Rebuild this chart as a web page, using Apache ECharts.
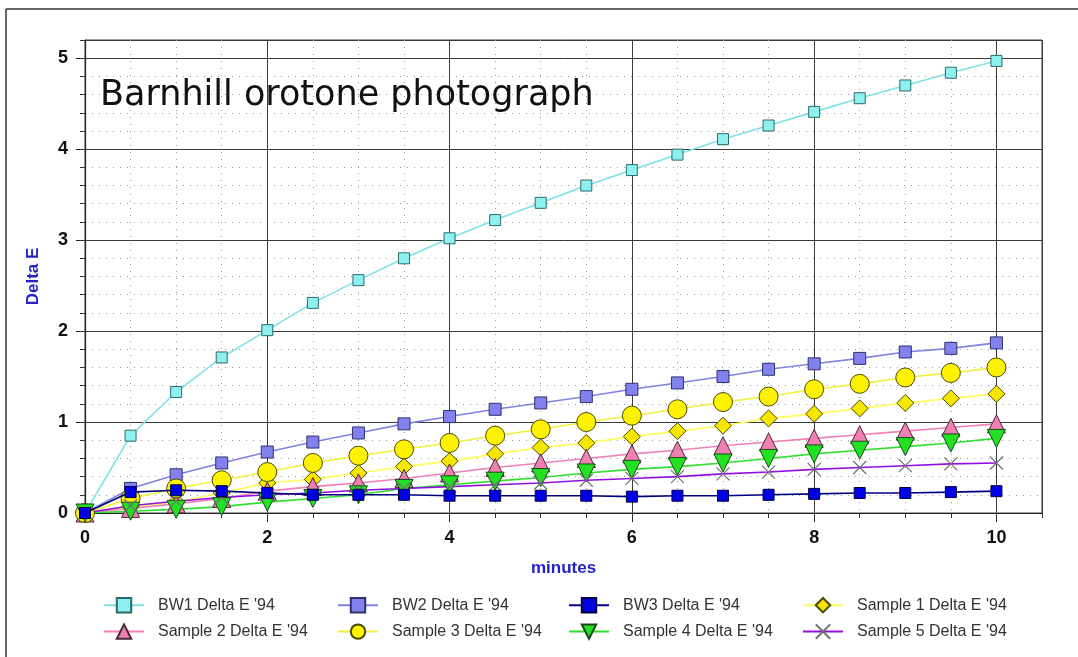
<!DOCTYPE html>
<html>
<head>
<meta charset="utf-8">
<script src="https://cdn.jsdelivr.net/npm/echarts@6/dist/echarts.min.js"></script>
<style>html,body{margin:0;padding:0;background:#fff;}#c{width:1078px;height:657px;}</style>
</head>
<body>
<div id="c"></div>
<script>
const minutes = [0,0.5,1,1.5,2,2.5,3,3.5,4,4.5,5,5.5,6,6.5,7,7.5,8,8.5,9,9.5,10];
const bw1 = [0,0.85,1.33,1.71,2.01,2.31,2.56,2.80,3.02,3.22,3.41,3.60,3.77,3.94,4.11,4.26,4.41,4.56,4.70,4.84,4.97];
const bw2 = [0,0.27,0.42,0.55,0.67,0.78,0.88,0.98,1.06,1.14,1.21,1.28,1.36,1.43,1.50,1.58,1.64,1.70,1.77,1.81,1.87];
const bw3 = [0,0.23,0.25,0.24,0.22,0.20,0.20,0.20,0.19,0.19,0.19,0.19,0.18,0.19,0.19,0.20,0.21,0.22,0.22,0.23,0.24];
const s1 = [0,0.07,0.12,0.22,0.33,0.37,0.44,0.51,0.57,0.65,0.72,0.77,0.84,0.90,0.96,1.04,1.09,1.15,1.21,1.26,1.31];
const s2 = [0,0.05,0.10,0.16,0.24,0.29,0.33,0.38,0.44,0.50,0.55,0.60,0.65,0.69,0.74,0.78,0.82,0.86,0.90,0.94,0.98];
const s3 = [0,0.16,0.27,0.36,0.45,0.55,0.63,0.70,0.77,0.85,0.92,1.00,1.07,1.14,1.22,1.28,1.36,1.42,1.49,1.54,1.60];
const s4 = [0,0.02,0.04,0.07,0.12,0.16,0.20,0.27,0.31,0.35,0.39,0.44,0.48,0.51,0.55,0.60,0.65,0.69,0.73,0.77,0.82];
const s5 = [0,0.08,0.13,0.17,0.20,0.22,0.25,0.27,0.29,0.31,0.33,0.36,0.38,0.40,0.43,0.45,0.48,0.50,0.52,0.54,0.55];
const seriesNames = ["BW1 Delta E '94","BW2 Delta E '94","BW3 Delta E '94","Sample 1 Delta E '94","Sample 2 Delta E '94","Sample 3 Delta E '94","Sample 4 Delta E '94","Sample 5 Delta E '94"];
const yTickLabels = ['0','1','2','3','4','5'];
const xTickLabels = ['0','2','4','6','8','10'];

const pairs = ys => minutes.map((x,i)=>[x, ys[i]]);
const labelFont = {fontFamily:'Liberation Sans, Arial, sans-serif', fontWeight:'bold', fontSize:18, color:'#111'};
const nameFont = {fontFamily:'Liberation Sans, Arial, sans-serif', fontWeight:'bold', fontSize:17, color:'#2323c8'};
const dotted = {show:true, lineStyle:{color:'#9a9a9a', type:[1,6], width:1}};
const solid = {show:true, lineStyle:{color:'#3a3a3a', type:'solid', width:1}};

function mk(name, data, lineColor, symbol, size, fill, border, extra) {
  return Object.assign({
    name, type:'line', data: pairs(data), xAxisIndex:1, yAxisIndex:1,
    symbol, symbolSize:size, showAllSymbol:true, animation:false,
    lineStyle:{color:lineColor, width:1.6},
    itemStyle:{color:fill, borderColor:border, borderWidth:1}
  }, extra||{});
}
const xPath = 'path://M0,0L10,10M10,0L0,10';
const series = [
  mk(seriesNames[0], bw1, '#7fe3e3', 'rect', 11, '#8ff0f0', '#2b6b6b'),
  mk(seriesNames[1], bw2, '#8282e2', 'rect', 12, '#8282ee', '#303070'),
  mk(seriesNames[2], bw3, '#000080', 'rect', 11, '#0000e6', '#000040', {z:4}),
  mk(seriesNames[3], s1, '#ffff5a', 'diamond', 17, '#f7e600', '#4a4a00'),
  mk(seriesNames[4], s2, '#f080b6', 'triangle', 18, '#f07fb2', '#4a2a3a'),
  mk(seriesNames[5], s3, '#f2f03c', 'circle', 19, '#fff200', '#4a4a00'),
  mk(seriesNames[6], s4, '#2fe02f', 'triangle', 18, '#22e022', '#1a4a1a', {symbolRotate:180}),
  mk(seriesNames[7], s5, '#9010e0', xPath, 13, 'rgba(0,0,0,0)', '#707070', {itemStyle:{color:'rgba(0,0,0,0)', borderColor:'#707070', borderWidth:1.2}})
];

function legendCol(left, names) {
  return {
    show:true, orient:'vertical', left, top:597, padding:0, itemWidth:40, itemHeight:18, itemGap:10,
    selectedMode:false, data:names,
    textStyle:{fontFamily:'Liberation Sans, Arial, sans-serif', fontSize:16, color:'#333', padding:[0,0,0,9]}
  };
}

const chart = echarts.init(document.getElementById('c'), null, {renderer:'canvas'});
chart.setOption({
  backgroundColor:'#fff',
  animation:false,
  grid:{left:85, top:40, right:36, bottom:144, show:true, borderColor:'#444', borderWidth:1, backgroundColor:'transparent'},
  xAxis:[
    {type:'value', position:'bottom', min:0, max:10.5, interval:0.5,
     axisLine:{show:false}, axisLabel:{show:false}, axisTick:{show:true, length:5, lineStyle:{color:'#222'}},
     splitLine:dotted},
    {type:'value', position:'bottom', min:0, max:10.5, interval:2,
     axisLine:{show:true, onZero:false, lineStyle:{color:'#222', width:1.2}},
     axisTick:{show:true, length:9, lineStyle:{color:'#222'}},
     axisLabel:Object.assign({margin:16, showMaxLabel:false, formatter:(v)=>{const i=v/2; return Number.isInteger(i)&&xTickLabels[i]!==undefined?xTickLabels[i]:'';}}, labelFont),
     splitLine:solid,
     name:'minutes', nameLocation:'middle', nameGap:47, nameTextStyle:nameFont},
    {type:'value', position:'top', min:0, max:10.5, interval:0.5,
     axisLine:{show:false}, axisLabel:{show:false}, axisTick:{show:true, inside:true, length:5, lineStyle:{color:'#333'}},
     splitLine:{show:false}}
  ],
  yAxis:[
    {type:'value', position:'left', min:0, max:5.2, interval:0.2,
     axisLine:{show:false}, axisLabel:{show:false}, axisTick:{show:true, length:5, lineStyle:{color:'#222'}},
     splitLine:dotted},
    {type:'value', position:'left', min:0, max:5.2, interval:1,
     axisLine:{show:true, onZero:false, lineStyle:{color:'#222', width:1.2}},
     axisTick:{show:true, length:9, lineStyle:{color:'#222'}},
     axisLabel:Object.assign({margin:17, showMaxLabel:false, formatter:(v)=>{return Number.isInteger(v)&&yTickLabels[v]!==undefined?yTickLabels[v]:'';}}, labelFont),
     splitLine:solid,
     name:'Delta E', nameLocation:'middle', nameGap:43, nameTextStyle:nameFont},
    {type:'value', position:'right', min:0, max:5.2, interval:0.2,
     axisLine:{show:false}, axisLabel:{show:false}, axisTick:{show:true, inside:true, length:5, lineStyle:{color:'#333'}},
     splitLine:{show:false}}
  ],
  legend:[
    legendCol(103, [seriesNames[0], seriesNames[4]]),
    legendCol(337, [seriesNames[1], seriesNames[5]]),
    legendCol(568, [seriesNames[2], seriesNames[6]]),
    legendCol(802, [seriesNames[3], seriesNames[7]])
  ],
  graphic:[
    {type:'line', shape:{x1:6, y1:9, x2:1078, y2:9}, style:{stroke:'#333', lineWidth:1.5}, silent:true},
    {type:'line', shape:{x1:6, y1:9, x2:6, y2:657}, style:{stroke:'#333', lineWidth:1.5}, silent:true},
    {type:'text', left:100, top:78, z:10, style:{text:'Barnhill orotone photograph', fontFamily:'DejaVu Sans, sans-serif', fontSize:35, fill:'#111'}, silent:true}
  ],
  series
});
</script>
</body>
</html>
